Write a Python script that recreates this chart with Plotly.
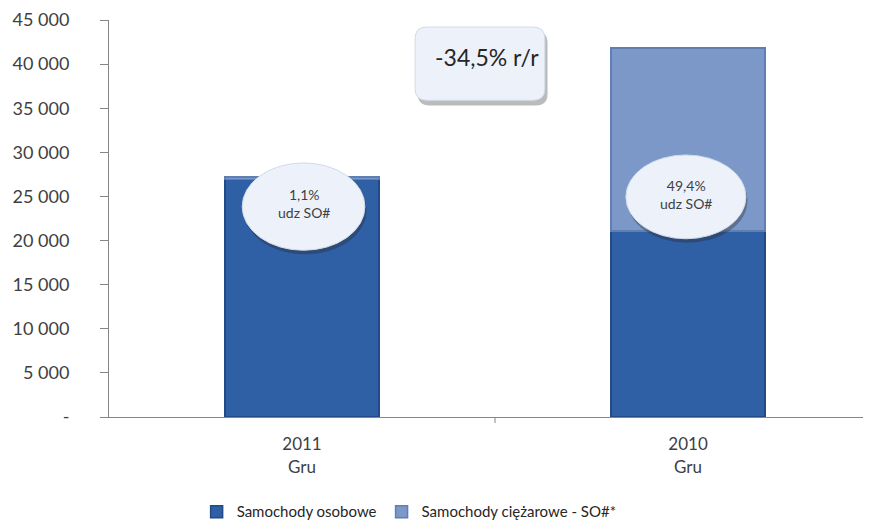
import plotly.graph_objects as go

categories = ["2011<br>Gru", "2010<br>Gru"]
osobowe = [26900, 21100]
ciezarowe_so = [300, 20700]
share_labels = ["1,1%<br>udz SO#", "49,4%<br>udz SO#"]
yoy_label = "-34,5% r/r"
y_tickvals = [0, 5000, 10000, 15000, 20000, 25000, 30000, 35000, 40000, 45000]
y_ticktext = ["-", "5 000", "10 000", "15 000", "20 000", "25 000", "30 000", "35 000", "40 000", "45 000"]

FONT = "Lato, 'Open Sans', sans-serif"
x_pos = [0, 1]

fig = go.Figure()
fig.add_trace(go.Bar(
    x=x_pos, y=osobowe, name="Samochody osobowe", width=0.40,
    marker=dict(color="#2f5fa5", line=dict(color="#214a86", width=1.5)),
))
fig.add_trace(go.Bar(
    x=x_pos, y=ciezarowe_so, name="Samochody ciężarowe - SO#*", width=0.40,
    marker=dict(color="#7b98c8", line=dict(color="#5f7fb3", width=1.5)),
))

shapes = []
annotations = []
# ellipses with shares (x0, x1, y0, y1)
ellipses = [(-0.155, 0.163, 18900, 28800), (0.839, 1.150, 20200, 29700)]
for (ex0, ex1, ey0, ey1), txt in zip(ellipses, share_labels):
    shapes.append(dict(type="circle", xref="x", yref="y",
                       x0=ex0 + 0.004, x1=ex1 + 0.004, y0=ey0 - 450, y1=ey1 - 450,
                       fillcolor="rgba(40,40,40,0.35)", line=dict(width=0), layer="above"))
    shapes.append(dict(type="circle", xref="x", yref="y",
                       x0=ex0, x1=ex1, y0=ey0, y1=ey1,
                       fillcolor="#edf2fa", line=dict(color="#d2dbe8", width=1), layer="above"))
    annotations.append(dict(x=(ex0 + ex1) / 2, y=(ey0 + ey1) / 2 + 300, xref="x", yref="y",
                            text=txt, showarrow=False,
                            font=dict(family=FONT, size=14, color="#404040"), align="center"))


def rounded_rect(x0, x1, y0, y1, rx, ry):
    return (f"M {x0+rx},{y0} L {x1-rx},{y0} Q {x1},{y0} {x1},{y0+ry} "
            f"L {x1},{y1-ry} Q {x1},{y1} {x1-rx},{y1} L {x0+rx},{y1} "
            f"Q {x0},{y1} {x0},{y1-ry} L {x0},{y0+ry} Q {x0},{y0} {x0+rx},{y0} Z")


# yoy box
shapes.append(dict(type="path", xref="x", yref="y",
                   path=rounded_rect(0.300, 0.636, 35300, 43700, 0.03, 1300),
                   fillcolor="rgba(60,60,60,0.35)", line=dict(width=0)))
shapes.append(dict(type="path", xref="x", yref="y",
                   path=rounded_rect(0.293, 0.629, 35900, 44200, 0.03, 1300),
                   fillcolor="#edf2fa", line=dict(color="#d2dbe8", width=1)))
annotations.append(dict(x=0.48, y=40800, xref="x", yref="y", text=yoy_label, showarrow=False,
                        font=dict(family=FONT, size=23, color="#262626")))

fig.update_layout(
    width=863, height=516,
    margin=dict(l=101, r=0, t=12, b=107, autoexpand=False),
    barmode="stack",
    plot_bgcolor="white", paper_bgcolor="white",
    font=dict(family=FONT, size=17, color="#404040"),
    shapes=shapes, annotations=annotations,
    legend=dict(orientation="h", x=0.115, xanchor="left", y=-0.239, yanchor="middle",
                font=dict(family=FONT, size=15, color="#262626"), traceorder="normal"),
)
fig.update_yaxes(range=[0, 45000], tickvals=y_tickvals, ticktext=y_ticktext,
                 showgrid=False, zeroline=False, showline=True, linecolor="#868686",
                 ticks="outside", ticklen=8, tickcolor="#868686", ticklabelstandoff=27,
                 tickfont=dict(family=FONT, size=18, color="#404040"))
fig.update_xaxes(range=[-0.5, 1.474], tickvals=x_pos, ticktext=categories,
                 showgrid=False, zeroline=False, showline=True, linecolor="#868686",
                 ticks="", ticklabelstandoff=12,
                 tickfont=dict(family=FONT, size=17, color="#404040"))
# middle divider tick on x axis
fig.add_shape(type="line", xref="x", yref="paper", x0=0.5, x1=0.5, y0=0, y1=-0.015,
              line=dict(color="#868686", width=1))

fig.write_html("out.html")
